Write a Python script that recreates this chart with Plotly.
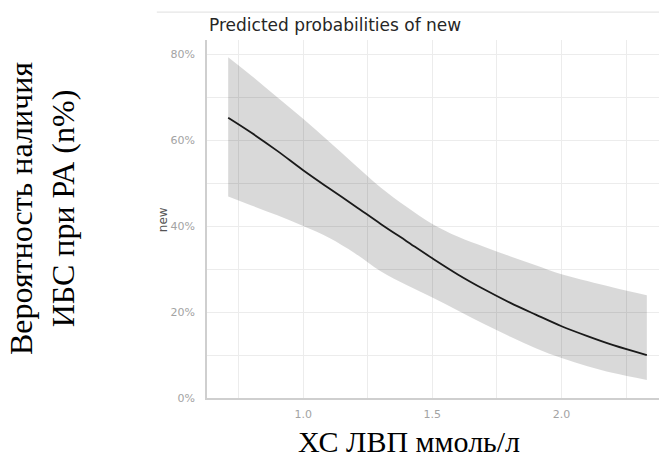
import plotly.graph_objects as go

# HDL cholesterol (mmol/l) and predicted probability with 95% CI
hdl = [0.71, 0.80, 0.90, 1.00, 1.10, 1.20, 1.30, 1.40, 1.50, 1.60,
       1.70, 1.80, 1.90, 2.00, 2.10, 2.20, 2.33]
predicted = [0.652, 0.617, 0.575, 0.530, 0.488, 0.447, 0.405, 0.365, 0.325, 0.287,
             0.253, 0.222, 0.194, 0.167, 0.144, 0.123, 0.100]
ci_upper = [0.793, 0.750, 0.700, 0.650, 0.597, 0.543, 0.490, 0.445, 0.405, 0.375,
            0.352, 0.330, 0.309, 0.288, 0.272, 0.257, 0.239]
ci_lower = [0.469, 0.448, 0.425, 0.400, 0.373, 0.337, 0.295, 0.263, 0.234, 0.203,
            0.172, 0.143, 0.116, 0.093, 0.074, 0.058, 0.042]

x_major = [1.0, 1.5, 2.0]
x_major_text = ["1.0", "1.5", "2.0"]
x_minor = [0.75, 1.25, 1.75, 2.25]
y_major = [0.0, 0.2, 0.4, 0.6, 0.8]
y_major_text = ["0%", "20%", "40%", "60%", "80%"]
y_minor = [0.1, 0.3, 0.5, 0.7]

GRID = "#ececec"
TICK_FONT = dict(family="DejaVu Sans", size=11, color="#a3a3a3")

fig = go.Figure()

# confidence band
fig.add_trace(go.Scatter(x=hdl, y=ci_upper, mode="lines",
                         line=dict(width=0, shape="spline"),
                         showlegend=False, hoverinfo="skip"))
fig.add_trace(go.Scatter(x=hdl, y=ci_lower, mode="lines",
                         line=dict(width=0, shape="spline"),
                         fill="tonexty", fillcolor="rgba(0,0,0,0.15)",
                         showlegend=False, hoverinfo="skip"))
# predicted probability
fig.add_trace(go.Scatter(x=hdl, y=predicted, mode="lines",
                         line=dict(color="#1a1a1a", width=1.8, shape="spline"),
                         showlegend=False))

fig.update_layout(
    width=659, height=461,
    margin=dict(l=207, r=0, t=40, b=63),
    paper_bgcolor="white", plot_bgcolor="white",
    xaxis=dict(range=[0.628, 2.377], tickvals=x_major, ticktext=x_major_text,
               showgrid=True, gridcolor=GRID, gridwidth=1.2,
               minor=dict(tickvals=x_minor, showgrid=True, gridcolor=GRID, gridwidth=1.2),
               showline=True, linecolor="#cfcfcf", linewidth=1.5,
               zeroline=False, ticks="", tickfont=TICK_FONT, ticklabelstandoff=5),
    yaxis=dict(range=[0, 0.833], tickvals=y_major, ticktext=y_major_text,
               showgrid=True, gridcolor=GRID, gridwidth=1.2,
               minor=dict(tickvals=y_minor, showgrid=True, gridcolor=GRID, gridwidth=1.2),
               showline=True, linecolor="#cfcfcf", linewidth=1.5,
               zeroline=False, ticks="", tickfont=TICK_FONT, ticklabelstandoff=8),
    showlegend=False,
)

# thin rule above the chart title
fig.add_shape(type="line", xref="paper", yref="paper",
              x0=-0.111, x1=1.0, y0=1.078, y1=1.078,
              line=dict(color="#e6e6e6", width=1.2))

fig.add_annotation(text="Predicted probabilities of new", xref="paper", yref="paper",
                   x=0.0, y=1.042, xanchor="left", yanchor="middle", showarrow=False,
                   font=dict(family="DejaVu Sans", size=17, color="#262626"))
fig.add_annotation(text="new", xref="paper", yref="paper", x=-0.097, y=0.497,
                   xanchor="center", yanchor="middle", textangle=-90, showarrow=False,
                   font=dict(family="DejaVu Sans", size=12, color="#555555"))
fig.add_annotation(text="Вероятность наличия<br>ИБС при РА (n%)", xref="paper", yref="paper",
                   x=-0.365, y=0.528, xanchor="center", yanchor="middle", textangle=-90,
                   showarrow=False,
                   font=dict(family="Liberation Serif", size=32, color="black"))
fig.add_annotation(text="ХС ЛВП ммоль/л", xref="paper", yref="paper",
                   x=0.447, y=-0.121, xanchor="center", yanchor="middle", showarrow=False,
                   font=dict(family="Liberation Serif", size=30, color="black"))

fig.write_html("out.html")
